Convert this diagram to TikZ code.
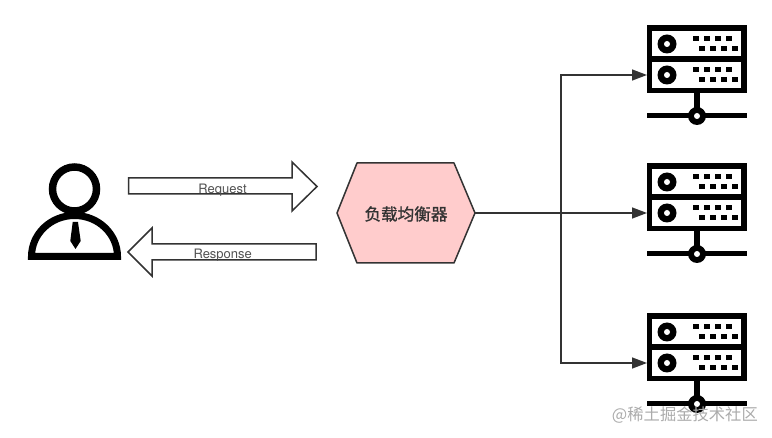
\documentclass[tikz,border=0pt]{standalone}
\usepackage{fontspec}
\setmainfont{TeX Gyre Heros}
\newfontfamily\cjk{Noto Sans CJK SC}
\newfontfamily\cjkb[FakeBold=1.2]{Noto Sans CJK SC}
\usetikzlibrary{arrows.meta}
\definecolor{ink}{HTML}{333333}
\definecolor{lbfill}{HTML}{FFCCCC}
\tikzset{
  x=1pt,y=-1pt,
  conn/.style={draw=ink,line width=1.4pt},
  connarrow/.style={conn,-{Triangle[length=15pt,width=11pt]}},
  blockarrow/.style={draw=ink,fill=white,line width=1.5pt,line join=miter},
  arrowlabel/.style={font=\fontsize{13}{14}\selectfont,text=ink!85,inner sep=0pt,anchor=base},
  hexshape/.style={draw=ink,fill=lbfill,line width=1.5pt,line join=round},
  lblabel/.style={font=\fontsize{16.6}{18}\cjkb,text=ink,inner sep=0pt,minimum width=138pt,minimum height=100pt},
  watermark/.style={font=\fontsize{16.3}{18}\cjk,text=black!33,inner sep=0pt},
  pics/server/.style={code={
    \fill[black] (0,0) rectangle (100,68);
    \fill[white] (5,6) rectangle (94,31);
    \fill[white] (5,37) rectangle (94,63);
    \foreach \cy in {19,50}{
      \fill[black] (20,\cy) circle[radius=9.5];
      \fill[white] (20,\cy) circle[radius=3];
    }
    \foreach \dy in {0,31}{
      \foreach \dx in {46,57,68,79}{
        \fill[black] (\dx,11+\dy) rectangle ++(6,5.5);
      }
      \foreach \dx in {52,63,74,85}{
        \fill[black] (\dx,21+\dy) rectangle ++(5.5,5.5);
      }
    }
    \fill[black] (47.3,68) rectangle (52.7,90);
    \fill[black] (0,88.5) rectangle (100,93.5);
    \fill[black] (50,91) circle[radius=9];
    \fill[white] (50,91) circle[radius=3];
  }}
}
\begin{document}
\begin{tikzpicture}
\useasboundingbox (0,0) rectangle (772,438);
% user
\draw[black,line width=7.5pt] (74.5,189) circle[radius=22];
\draw[black,line width=7pt,line join=miter] (31.5,256.5) arc[start angle=180,end angle=0,x radius=43pt,y radius=41pt] -- cycle;
\fill[black] (72.7,222) -- (78,222) -- (80.7,241) -- (75.5,249) -- (70.3,241) -- cycle;
% block arrows
\draw[blockarrow] (128.5,178) -- (292,178) -- (292,162) -- (317,186.5) -- (292,211) -- (292,194) -- (128.5,194) -- cycle;
\node[arrowlabel] (req) at (222.5,194) {Request};
\draw[blockarrow] (316,244) -- (152,244) -- (152,228) -- (128,252) -- (152,276) -- (152,260) -- (316,260) -- cycle;
\node[arrowlabel] (resp) at (222.7,259) {Response};
% balancer
\draw[hexshape] (337,213) -- (357,163) -- (454,163) -- (475,213) -- (454,263) -- (357,263) -- cycle;
\node[lblabel] (lb) at (406,214) {负载均衡器};
% servers
\pic at (647,25) {server};
\pic at (647,163) {server};
\pic at (647,313) {server};
\coordinate (s1) at (647,75);
\coordinate (s2) at (647,213);
\coordinate (s3) at (647,363);
\coordinate (lbout) at (475,213);
\coordinate (split) at (561,213);
\draw[connarrow] (lbout) -- (s2);
\draw[connarrow] (split) |- (s1);
\draw[connarrow] (split) |- (s3);
\node[watermark,anchor=east] (wm) at (758,415) {@稀土掘金技术社区};
\end{tikzpicture}
\end{document}
